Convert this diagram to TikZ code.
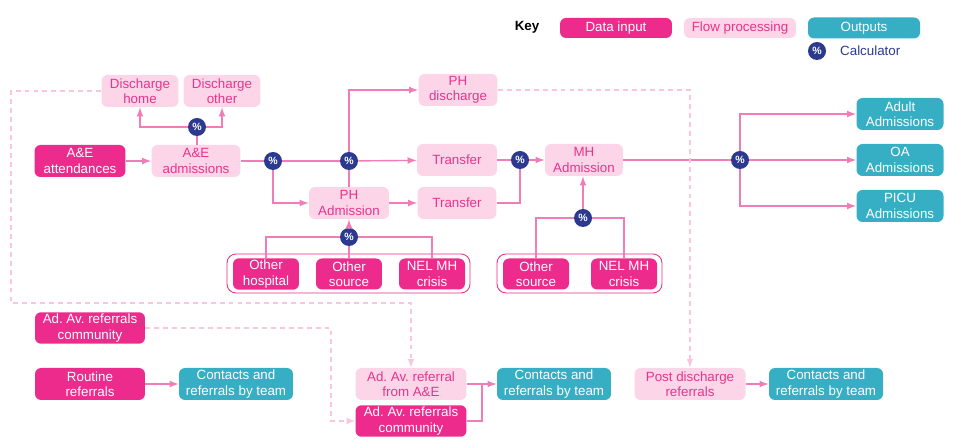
\documentclass[tikz,border=0pt]{standalone}
\usepackage{fontspec}
\setmainfont{Liberation Sans}
\usetikzlibrary{positioning}
\frenchspacing

\definecolor{datapink}{HTML}{EC2B8C}
\definecolor{flowfill}{HTML}{FDD5E8}
\definecolor{flowtext}{HTML}{E6348C}
\definecolor{teal}{HTML}{36AFC5}
\definecolor{navy}{HTML}{2B3A8E}
\definecolor{linepink}{HTML}{F07CB8}
\definecolor{dashpink}{HTML}{F9C6DD}

\begin{document}
\begin{tikzpicture}[x=0.02cm, y=-0.02cm,
box/.style={rounded corners=0.12cm, align=center, inner sep=1pt, minimum height=0.64cm, font=\fontsize{7.6}{8.8}\selectfont},
datain/.style={box, fill=datapink, text=white},
flowbox/.style={box, fill=flowfill, text=flowtext},
outbox/.style={box, fill=teal, text=white},
calc/.style={circle, fill=navy, text=white, inner sep=0pt, minimum size=0.36cm, font=\bfseries\fontsize{6}{6}\selectfont},
link/.style={draw=linepink, line width=0.8pt},
flow/.style={link, -latex},
dashflow/.style={draw=dashpink, line width=0.7pt, dash pattern=on 2.8pt off 2.3pt, -latex},
grp/.style={draw=datapink, line width=0.5pt, rounded corners=0.18cm}]
\useasboundingbox (0,0) rectangle (963,448);

% key
\node[font=\bfseries\fontsize{7.6}{8.8}\selectfont] (keylbl) at (527,27) {Key};
\node[datain, minimum width=2.24cm, minimum height=0.4cm] (keydata) at (616,28) {Data input};
\node[flowbox, minimum width=2.24cm, minimum height=0.4cm] (keyflow) at (740,28) {Flow processing};
\node[outbox, minimum width=2.24cm, minimum height=0.42cm] (keyout) at (864,28) {Outputs};
\node[calc] (keycalc) at (817,51) {\%};
\node[anchor=west, text=navy, font=\fontsize{7.6}{8.8}\selectfont] (keycalctxt) at (834,51) {Calculator};

% A&E
\node[flowbox, minimum width=1.54cm] (dhome) at (140,91) {Discharge\\home};
\node[flowbox, minimum width=1.54cm] (dother) at (222,91) {Discharge\\other};
\node[calc] (c1) at (197,127) {\%};
\node[datain, minimum width=1.82cm] (aeatt) at (80,161) {A\&E\\attendances};
\node[flowbox, minimum width=1.78cm] (aeadm) at (196,161) {A\&E\\admissions};
\node[calc] (c2) at (273,161) {\%};
\node[calc] (c3) at (349,161) {\%};

% physical health
\node[flowbox, minimum width=1.58cm] (phdis) at (458,90) {PH\\discharge};
\node[flowbox, minimum width=1.6cm] (trans1) at (457,160) {Transfer};
\node[flowbox, minimum width=1.6cm] (phadm) at (349,203) {PH\\Admission};
\node[flowbox, minimum width=1.58cm] (trans2) at (457,203) {Transfer};
\node[calc] (c4) at (520,160) {\%};
\node[calc] (c6) at (349,237) {\%};

% mental health
\node[flowbox, minimum width=1.56cm] (mhadm) at (584,160) {MH\\Admission};
\node[calc] (c5) at (583,218) {\%};
\node[calc] (c7) at (740,160) {\%};

% other sources
\draw[grp] (227,254) rectangle (470,293);
\draw[grp] (497,254) rectangle (662,293);
\node[datain, minimum width=1.32cm, minimum height=0.62cm] (ohosp) at (266,274) {Other\\hospital};
\node[datain, minimum width=1.32cm, minimum height=0.62cm] (osrc1) at (349,274) {Other\\source};
\node[datain, minimum width=1.32cm, minimum height=0.62cm] (nel1) at (432,274) {NEL MH\\crisis};
\node[datain, minimum width=1.32cm, minimum height=0.62cm] (osrc2) at (536,274) {Other\\source};
\node[datain, minimum width=1.32cm, minimum height=0.62cm] (nel2) at (624,274) {NEL MH\\crisis};

% outputs
\node[outbox, minimum width=1.74cm] (adult) at (900,114) {Adult\\Admissions};
\node[outbox, minimum width=1.74cm] (oa) at (900,160) {OA\\Admissions};
\node[outbox, minimum width=1.74cm] (picu) at (900,206) {PICU\\Admissions};

% referrals
\node[datain, minimum width=2.2cm, minimum height=0.6cm] (aacomm1) at (90,328) {Ad. Av. referrals\\community};
\node[datain, minimum width=2.2cm] (routine) at (90,384) {Routine\\referrals};
\node[outbox, minimum width=2.28cm] (cont1) at (236,384) {Contacts and\\referrals by team};
\node[flowbox, minimum width=2.22cm] (aaae) at (411,384) {Ad. Av. referral\\from A\&E};
\node[datain, minimum width=2.22cm, minimum height=0.62cm] (aacomm2) at (411,421) {Ad. Av. referrals\\community};
\node[outbox, minimum width=2.28cm] (cont2) at (554,384) {Contacts and\\referrals by team};
\node[flowbox, minimum width=2.22cm] (postdis) at (690,384) {Post discharge\\referrals};
\node[outbox, minimum width=2.28cm] (cont3) at (826,384) {Contacts and\\referrals by team};

\coordinate (dl1) at (11,91);
\coordinate (dl2) at (11,303);
\coordinate (dl3) at (331,400);
\coordinate (j2) at (482,384);

% connectors
\draw[link] (c1) -- (c1 |- aeadm.north);
\draw[flow] (c1.west) -| (dhome.south);
\draw[flow] (c1.east) -| (dother.south);
\draw[flow] (aeatt) -- (aeadm);
\draw[link] (aeadm) -- (c2);
\draw[link] (c2) -- (c3);
\draw[flow] (c3) -- (trans1);
\draw[flow] (c2.south) |- (phadm.west);
\draw[flow] (c3.north) |- (phdis.west);
\draw[link] (phadm.north) -- (c3.south);
\draw[flow] (phadm) -- (trans2);
\draw[link] (trans1) -- (c4);
\draw[link] (trans2.east) -| (c4.south);
\draw[flow] (c4) -- (mhadm);
\draw[flow] (c5) -- (c5 |- mhadm.south);
\draw[link] (c5.west) -| (osrc2.north);
\draw[link] (c5.east) -| (nel2.north);
\draw[flow] (c6) -- (phadm.south);
\draw[link] (c6.west) -| (ohosp.north);
\draw[link] (c6) -- (osrc1.north);
\draw[link] (c6.east) -| (nel1.north);
\draw[link] (mhadm) -- (c7);
\draw[flow] (c7.north) |- (adult.west);
\draw[flow] (c7) -- (oa);
\draw[flow] (c7.south) |- (picu.west);
\draw[flow] (routine) -- (cont1);
\draw[flow] (aaae) -- (cont2);
\draw[link] (aacomm2.east) -| (j2);
\draw[flow] (postdis) -- (cont3);
\draw[dashflow] (dhome.west) -- (dl1) -- (dl2) -| (aaae.north);
\draw[dashflow] (aacomm1.east) -| (dl3) |- (aacomm2.west);
\draw[dashflow] (phdis.east) -| (postdis.north);
\end{tikzpicture}
\end{document}
